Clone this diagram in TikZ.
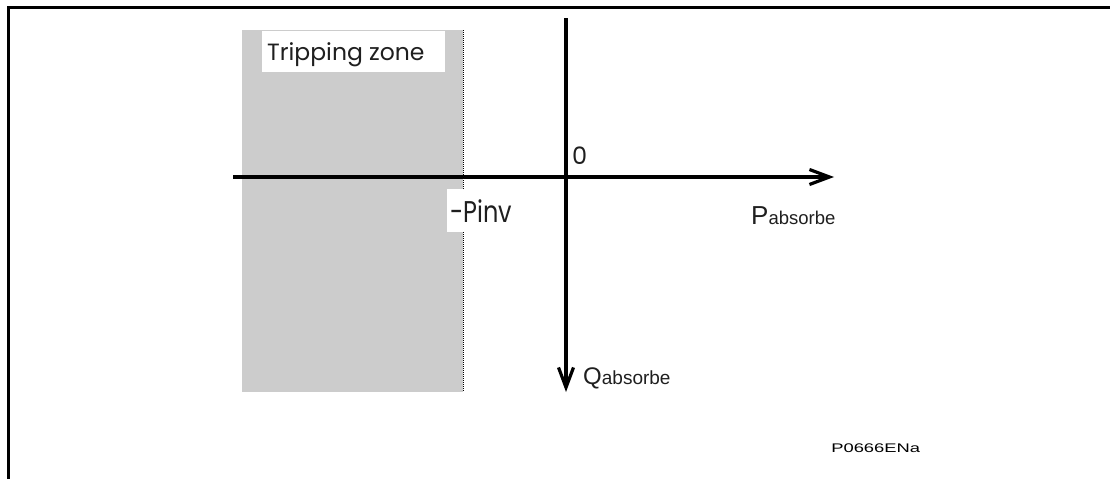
\documentclass[tikz,border=0pt]{standalone}
\usepackage{fontspec}
\setmainfont{Liberation Sans}
\newfontfamily\geo{Poppins}
\usetikzlibrary{arrows.meta}
\tikzset{
  axis/.style={line width=3.5pt,-{Straight Barb[length=20pt,width=15pt,line width=3.2pt]}},
  frame/.style={line width=3pt},
  whitelabel/.style={fill=white,inner sep=0pt,anchor=north west},
  geolabel/.style={font=\geo\fontsize{23.5}{26}\selectfont,text=black!88,inner sep=0pt},
  sanslabel/.style={inner sep=0pt,text=black!88,anchor=base west},
}
\begin{document}
\begin{tikzpicture}[x=1pt,y=-1pt]
\useasboundingbox (0,0) rectangle (1110,479);
% frame
\draw[frame] (1110,7) -- (8,7) -- (8,479);
% zone
\fill[black!20] (242,30) rectangle (463,392);
\draw[densely dotted,line width=1pt] (463,30) -- (463,392);
\node[whitelabel,minimum width=183pt,minimum height=41pt] (zbox) at (262,31) {};
\node[geolabel,anchor=base west] (zone) at (267,60) {Tripping zone};
\node[whitelabel,minimum width=22pt,minimum height=43pt] (pbox) at (447,189) {};
\node[geolabel,anchor=base west,font=\geo\fontsize{30}{32}\selectfont,xscale=0.8] (pinv) at (450,222) {-Pinv};
% axes
\coordinate (xs) at (233,177);
\coordinate (xe) at (834,177);
\coordinate (ys) at (566,18);
\coordinate (ye) at (566,392);
\draw[axis] (xs) -- (xe);
\draw[axis] (ys) -- (ye);
\node[geolabel,anchor=base west,font=\geo\fontsize{24}{26}\selectfont] (zero) at (572,164) {0};
\node[sanslabel] (pl) at (751,224) {\fontsize{26}{28}\selectfont P\fontsize{18.5}{20}\selectfont absorbe};
\node[sanslabel] (ql) at (583,384) {\fontsize{24}{26}\selectfont Q\fontsize{19}{21}\selectfont absorbe};
\node[sanslabel,text=black,font=\fontsize{12.5}{14}\selectfont,xscale=1.47] (ref) at (831,452) {P0666ENa};
\end{tikzpicture}
\end{document}
